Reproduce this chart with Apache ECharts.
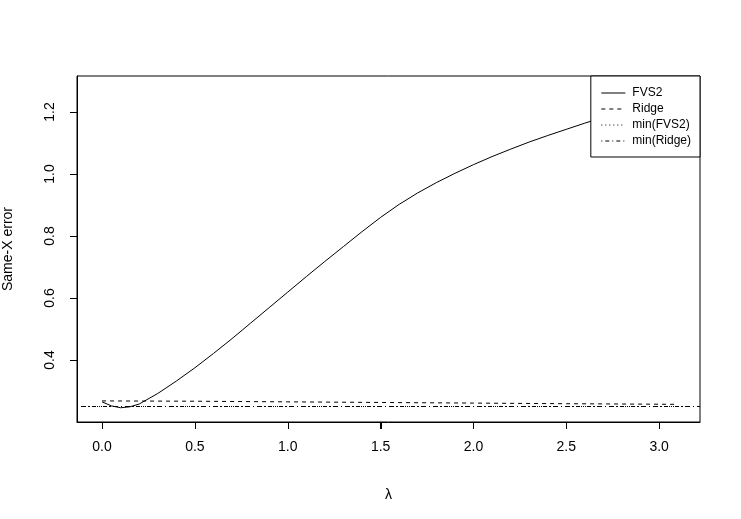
<!DOCTYPE html>
<html>
<head>
<meta charset="utf-8">
<script src="https://cdn.jsdelivr.net/npm/echarts@6/dist/echarts.min.js"></script>
<style>html,body{margin:0;padding:0;background:#fff}#c{width:741px;height:519px;background:#fff}</style>
</head>
<body>
<div id="c"></div>
<script>
const lambda = [0, 0.05, 0.1, 0.15, 0.2, 0.3, 0.4, 0.5, 0.6, 0.7, 0.8, 0.9, 1.0, 1.1, 1.2, 1.3, 1.4, 1.5, 1.6, 1.7, 1.8, 1.9, 2.0, 2.1, 2.2, 2.3, 2.4, 2.5, 2.6, 2.7, 2.8, 2.9, 3.0, 3.1];
const fvs2 = [0.265, 0.252, 0.246, 0.249, 0.258, 0.292, 0.332, 0.375, 0.421, 0.469, 0.519, 0.569, 0.619, 0.669, 0.718, 0.766, 0.814, 0.860, 0.902, 0.939, 0.972, 1.002, 1.030, 1.056, 1.080, 1.103, 1.124, 1.144, 1.164, 1.183, 1.202, 1.221, 1.239, 1.257];
const ridgeLambda = [0, 0.5, 1.0, 1.5, 2.0, 2.5, 3.1];
const ridge = [0.268, 0.267, 0.265, 0.263, 0.261, 0.259, 0.257];
const minFVS2 = 0.246;
const minRidge = 0.248;
const xTicks = [0, 0.5, 1.0, 1.5, 2.0, 2.5, 3.0];
const yTicks = [0.4, 0.6, 0.8, 1.0, 1.2];
const seriesNames = ['FVS2', 'Ridge', 'min(FVS2)', 'min(Ridge)'];

const FONT = 'Liberation Sans, Arial, Helvetica, sans-serif';
const chart = echarts.init(document.getElementById('c'), null, {renderer: 'canvas'});

const dotted = [1, 3];
const dotdash = [1, 3, 4, 3];
const dashed = [4, 4];
const X_MIN = -0.135, X_MAX = 3.22, Y_MIN = 0.2, Y_MAX = 1.316;

chart.setOption({
  animation: false,
  grid: {left: 77, right: 41, top: 76, bottom: 97, show: true, borderColor: '#000', borderWidth: 1,
    containLabel: false, outerBoundsMode: 'none'},
  legend: {
    data: seriesNames,
    orient: 'vertical',
    right: 41, top: 76,
    align: 'left',
    padding: [9, 9, 8, 10],
    itemWidth: 24, itemHeight: 14, itemGap: 0,
    backgroundColor: '#fff',
    borderColor: '#000', borderWidth: 1, borderRadius: 0,
    itemStyle: {opacity: 0},
    lineStyle: {width: 1},
    textStyle: {fontFamily: FONT, fontSize: 12, color: '#000', padding: [0, 0, 0, 2], lineHeight: 16, height: 16},
    selectedMode: false
  },
  xAxis: {
    type: 'value',
    min: X_MIN, max: X_MAX,
    name: 'λ', nameLocation: 'middle', nameGap: 66,
    nameTextStyle: {fontFamily: FONT, fontSize: 14, color: '#000'},
    axisLine: {show: true, onZero: false, lineStyle: {color: '#000', width: 1}},
    axisTick: {show: true, inside: false, length: 7, lineStyle: {color: '#000', width: 1}, customValues: xTicks},
    axisLabel: {fontFamily: FONT, fontSize: 14, color: '#000', margin: 18, customValues: xTicks,
      formatter: v => v.toFixed(1)},
    splitLine: {show: false}
  },
  yAxis: {
    type: 'value',
    min: Y_MIN, max: Y_MAX,
    name: 'Same-X error', nameLocation: 'middle', nameGap: 62, nameRotate: 90,
    nameTextStyle: {fontFamily: FONT, fontSize: 14, color: '#000'},
    axisLine: {show: true, onZero: false, lineStyle: {color: '#000', width: 1}},
    axisTick: {show: true, inside: false, length: 7, lineStyle: {color: '#000', width: 1}, customValues: yTicks},
    axisLabel: {fontFamily: FONT, fontSize: 14, color: '#000', margin: 20, rotate: 90, customValues: yTicks,
      formatter: v => v.toFixed(1)},
    splitLine: {show: false}
  },
  series: [
    {
      name: 'FVS2', type: 'line', symbol: 'none', smooth: false,
      data: lambda.map((l, i) => [l, fvs2[i]]),
      lineStyle: {color: '#000', width: 1, type: 'solid'},
      itemStyle: {color: '#000'}
    },
    {
      name: 'Ridge', type: 'line', symbol: 'none',
      data: ridgeLambda.map((l, i) => [l, ridge[i]]),
      lineStyle: {color: '#000', width: 1, type: dashed},
      itemStyle: {color: '#000'}
    },
    {
      name: 'min(FVS2)', type: 'line', symbol: 'none', data: [],
      lineStyle: {color: '#000', width: 1, type: dotted},
      itemStyle: {color: '#000'},
      markLine: {silent: true, symbol: 'none', label: {show: false},
        lineStyle: {color: '#000', width: 1, type: dotted},
        data: [{yAxis: minFVS2}]}
    },
    {
      name: 'min(Ridge)', type: 'line', symbol: 'none', data: [],
      lineStyle: {color: '#000', width: 1, type: dotdash},
      itemStyle: {color: '#000'},
      markLine: {silent: true, symbol: 'none', label: {show: false},
        lineStyle: {color: '#000', width: 1, type: dotdash},
        data: [{yAxis: minRidge}]}
    }
  ]
});

// Tick marks placed through the library's own scales (convertToPixel), drawn as thin filled rects
const tickEls = [];
xTicks.forEach(v => {
  const p = chart.convertToPixel({gridIndex: 0}, [v, Y_MIN]);
  const x = Math.round(p[0]), y = Math.round(p[1]);
  tickEls.push({type: 'rect', silent: true, z: 200, zlevel: 1,
    shape: {x: x, y: y, width: 1, height: 7}, style: {fill: '#000'}});
});
yTicks.forEach(v => {
  const p = chart.convertToPixel({gridIndex: 0}, [X_MIN, v]);
  const x = Math.round(p[0]), y = Math.round(p[1]);
  tickEls.push({type: 'rect', silent: true, z: 200, zlevel: 1,
    shape: {x: x - 7, y: y, width: 7, height: 1}, style: {fill: '#000'}});
});
chart.setOption({graphic: {elements: tickEls}});
</script>
</body>
</html>
